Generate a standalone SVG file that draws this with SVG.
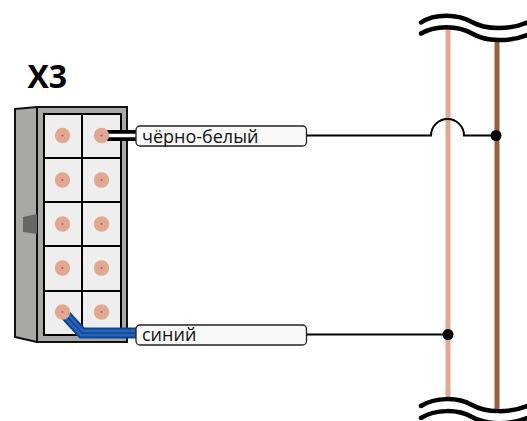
<svg xmlns="http://www.w3.org/2000/svg" width="527" height="421" viewBox="0 0 527 421">
<style>
.l{fill:#f9f9f9;stroke:#222;stroke-width:1.300}
.t{font-family:"Open Sans",sans-serif;font-size:18px;fill:#111}
.w{fill:none;stroke:#000;stroke-width:4.500;stroke-linecap:round}
.c{fill:#e0a890}
.d{fill:#e8308a}
.g{fill:none;stroke:#000;stroke-width:2}
</style>
<rect width="527" height="421" fill="#fff"/>
<g id="connector-x3">
<path d="M15 109L37 107V342L15 337Z" fill="#a8a8a6" stroke="#111" stroke-width="2" stroke-linejoin="round"/>
<rect x="37" y="107" width="90" height="235" fill="#a8a8a6" stroke="#111" stroke-width="2"/>
<path d="M23 217L37 214V234L23 232Z" fill="#666"/>
<rect x="44" y="114" width="77" height="221" fill="#eee" stroke="#000" stroke-width="2"/>
<path class="g" d="M82 114V335M44 158H121M44 202H121M44 246H121M44 291H121"/>
<text x="27.500" y="87.500" font-family="'Open Sans',sans-serif" font-size="32" font-weight="700" fill="#000">X3</text>
</g>
<g id="connectors">
<path d="M448 27V399" fill="none" stroke="#e0a890" stroke-width="5"/>
<path d="M497 40V410" fill="none" stroke="#96623c" stroke-width="5"/>
<path d="M101 135.500H137" stroke="#000" stroke-width="11" fill="none"/>
<path d="M101 135.500H137" stroke="#fff" stroke-width="3.500" fill="none"/>
<path d="M65 314.500L82 333H137" stroke="#0d4596" stroke-width="11" fill="none"/>
<path d="M65 314.500L82 333H137" stroke="#2a62b4" stroke-width="7" fill="none"/>
<path d="M65 314.500L82 333H137" stroke="#0d4596" stroke-width="1.500" fill="none"/>
<path d="M307 135.500H431A16.500 16.500 0 0 1 464 135.500H496" fill="none" stroke="#000" stroke-width="2"/>
<path d="M307 334.500H448" fill="none" stroke="#000" stroke-width="2"/>
<circle cx="496" cy="135.500" r="5.500"/>
<circle cx="448" cy="334.500" r="5.500"/>
<path class="w" d="M421 22.500C435 13 458 14 472 22C486 30 510 30 527 22.500"/>
<path class="w" d="M421 33.500C435 25 458 25 472 33.500C486 42 510 42 527 35"/>
<path class="w" d="M421 406C435 397 458 397 472 405C486 413 510 413 527 406"/>
<path class="w" d="M421 418C435 409 458 409 472 417C486 425 510 425 527 418"/>
</g>
<g id="pins">
<circle class="c" cx="62.500" cy="135.500" r="7.700"/><circle class="c" cx="101.500" cy="135.500" r="7.700"/>
<circle class="c" cx="62.500" cy="180" r="7.700"/><circle class="c" cx="101.500" cy="180" r="7.700"/>
<circle class="c" cx="62.500" cy="224" r="7.700"/><circle class="c" cx="101.500" cy="224" r="7.700"/>
<circle class="c" cx="62.500" cy="268" r="7.700"/><circle class="c" cx="101.500" cy="268" r="7.700"/>
<circle class="c" cx="62.500" cy="312" r="7.700"/><circle class="c" cx="101.500" cy="312" r="7.700"/>
<circle class="d" cx="62.500" cy="135.500" r="1"/><circle class="d" cx="101.500" cy="135.500" r="1"/>
<circle class="d" cx="62.500" cy="180" r="1"/><circle class="d" cx="101.500" cy="180" r="1"/>
<circle class="d" cx="62.500" cy="224" r="1"/><circle class="d" cx="101.500" cy="224" r="1"/>
<circle class="d" cx="62.500" cy="268" r="1"/><circle class="d" cx="101.500" cy="268" r="1"/>
<circle class="d" cx="62.500" cy="312" r="1"/><circle class="d" cx="101.500" cy="312" r="1"/>
</g>
<g id="label-black-white">
<rect class="l" x="136" y="126" width="170.500" height="20" rx="4"/>
<text class="t" x="142" y="142.500">чёрно-белый</text>
</g>
<g id="label-blue">
<rect class="l" x="136" y="325" width="170.500" height="20" rx="4"/>
<text class="t" x="142" y="340.500">синий</text>
</g>
</svg>
